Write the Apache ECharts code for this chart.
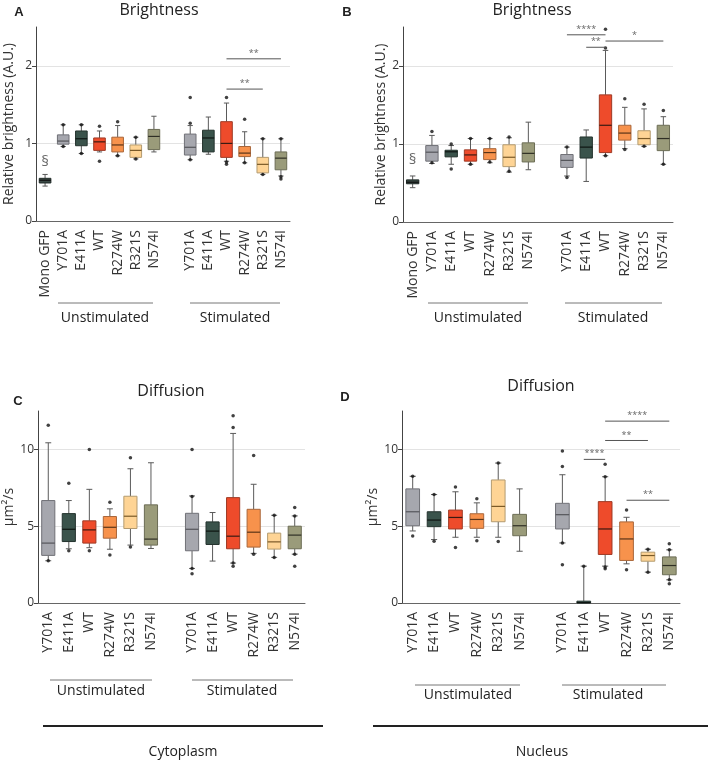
<!DOCTYPE html>
<html>
<head>
<meta charset="utf-8">
<script src="https://cdn.jsdelivr.net/npm/echarts@6/dist/echarts.min.js"></script>
<style>
  html, body { margin: 0; padding: 0; background: #fff; }
  #chart { width: 710px; height: 761px; }
</style>
</head>
<body>
<div id="chart"></div>
<script>
// categories (empty string = gap between groups)
var brightCats = ['Mono GFP', 'Y701A', 'E411A', 'WT', 'R274W', 'R321S', 'N574I', '', 'Y701A', 'E411A', 'WT', 'R274W', 'R321S', 'N574I'];
var diffCats = ['Y701A', 'E411A', 'WT', 'R274W', 'R321S', 'N574I', '', 'Y701A', 'E411A', 'WT', 'R274W', 'R321S', 'N574I'];
var brightTicks = [0, 1, 2];
var diffTicks = [0, 5, 10];

// boxes: [min, Q1, median, Q3, max], null for the gap
var aBox = [
	[0.45, 0.49, 0.525, 0.55, 0.60],
	[0.96, 0.99, 1.03, 1.11, 1.24],
	[0.87, 0.97, 1.06, 1.16, 1.24],
	[0.89, 0.91, 1.02, 1.07, 1.16],
	[0.84, 0.89, 0.98, 1.08, 1.23],
	[0.80, 0.82, 0.91, 0.98, 1.08],
	[0.89, 0.92, 1.09, 1.18, 1.35],
	null,
	[0.79, 0.85, 0.95, 1.12, 1.23],
	[0.86, 0.89, 1.07, 1.17, 1.34],
	[0.77, 0.82, 1.00, 1.28, 1.52],
	[0.75, 0.83, 0.875, 0.96, 1.15],
	[0.60, 0.62, 0.73, 0.82, 1.06],
	[0.58, 0.66, 0.81, 0.89, 1.06]
];
var bBox = [
	[0.44, 0.49, 0.51, 0.54, 0.59],
	[0.75, 0.78, 0.895, 0.98, 1.11],
	[0.74, 0.835, 0.90, 0.92, 0.98],
	[0.74, 0.78, 0.86, 0.925, 1.07],
	[0.76, 0.80, 0.89, 0.94, 1.07],
	[0.64, 0.71, 0.83, 0.99, 1.08],
	[0.67, 0.77, 0.88, 1.015, 1.28],
	null,
	[0.59, 0.70, 0.79, 0.865, 0.96],
	[0.52, 0.82, 0.96, 1.09, 1.18],
	[0.85, 0.89, 1.24, 1.63, 2.20],
	[0.94, 1.05, 1.14, 1.24, 1.47],
	[0.97, 0.99, 1.07, 1.17, 1.45],
	[0.74, 0.915, 1.07, 1.24, 1.35]
];
var cBox = [
	[2.75, 3.10, 3.90, 6.67, 10.43],
	[3.53, 4.00, 4.80, 5.82, 6.67],
	[3.60, 3.90, 4.76, 5.35, 7.40],
	[3.50, 4.22, 4.93, 5.63, 6.13],
	[3.77, 4.85, 5.65, 6.95, 8.74],
	[3.55, 3.77, 4.16, 6.39, 9.13],
	null,
	[2.25, 3.40, 4.80, 5.84, 6.97],
	[2.73, 3.81, 4.68, 5.28, 5.89],
	[2.60, 3.53, 4.35, 6.86, 11.04],
	[3.23, 3.64, 4.61, 6.10, 7.73],
	[2.97, 3.51, 3.98, 4.55, 5.71],
	[3.18, 3.53, 4.42, 5.00, 5.67]
];
var dBox = [
	[4.69, 5.03, 5.94, 7.43, 8.25],
	[4.13, 4.97, 5.40, 5.94, 7.06],
	[4.28, 4.82, 5.57, 6.05, 7.24],
	[4.28, 4.86, 5.44, 5.81, 6.52],
	[4.28, 5.29, 6.29, 8.01, 9.11],
	[3.37, 4.38, 5.03, 5.77, 7.43],
	null,
	[3.91, 4.82, 5.75, 6.49, 8.35],
	[0.00, 0.00, 0.03, 0.12, 2.40],
	[2.40, 3.16, 4.82, 6.60, 8.22],
	[2.55, 2.77, 4.17, 5.28, 5.58],
	[2.01, 2.72, 3.09, 3.31, 3.50],
	[1.51, 1.84, 2.44, 3.00, 3.46]
];

// outliers: [category index, value]
var aOut = [[1, 1.24], [1, 0.96], [2, 1.24], [2, 0.87], [3, 1.22], [3, 0.77], [4, 1.28], [4, 0.84], [5, 1.08], [5, 0.80],
	[8, 1.59], [8, 1.26], [8, 0.79], [10, 1.59], [10, 0.76], [10, 0.73], [11, 1.31], [11, 0.75], [12, 1.06], [12, 0.60],
	[13, 1.06], [13, 0.57], [13, 0.54]];
var bOut = [[1, 1.16], [1, 0.76], [2, 1.00], [2, 0.68], [3, 1.07], [3, 0.74], [4, 1.07], [4, 0.77], [5, 1.09], [5, 0.65],
	[8, 0.96], [8, 0.57], [10, 2.47], [10, 2.23], [10, 0.85], [11, 1.58], [11, 0.93], [12, 1.51], [12, 0.97], [13, 1.43], [13, 0.74]];
var cOut = [[0, 11.58], [0, 2.75], [1, 7.79], [1, 3.40], [2, 10.0], [2, 3.40], [3, 6.56], [3, 3.12], [4, 9.46], [4, 3.64],
	[7, 10.0], [7, 6.93], [7, 2.25], [7, 1.90], [9, 12.19], [9, 11.43], [9, 2.60], [9, 2.40], [10, 9.61], [10, 3.18],
	[11, 5.71], [11, 2.97], [12, 6.21], [12, 5.67], [12, 3.18], [12, 2.40]];
var dOut = [[0, 8.25], [0, 4.36], [1, 7.06], [1, 4.02], [2, 7.56], [2, 3.61], [3, 6.78], [3, 4.06], [4, 9.11], [4, 4.00],
	[7, 9.90], [7, 8.89], [7, 3.91], [7, 2.49], [8, 2.40], [9, 9.04], [9, 8.22], [9, 2.34], [9, 2.23], [10, 6.06], [10, 2.16],
	[11, 3.50], [11, 2.01], [12, 3.85], [12, 3.46], [12, 1.51], [12, 1.25]];

// significance: [from index, to index, value, stars]
var aSig = [[10, 13, 2.09, '**'], [10, 12, 1.70, '**']];
var bSig = [[8, 10, 2.40, '****'], [9, 10, 2.24, '**'], [10, 13, 2.32, '*']];
var cSig = [];
var dSig = [[9, 12, 11.84, '****'], [9, 11, 10.58, '**'], [8, 9, 9.35, '****'], [10, 12, 6.69, '**']];

// section marks
var aNote = [[0, 0.77, '§']];
var bNote = [[0, 0.80, '§']];

var colorOf = {
	'Mono GFP': ['#3b4a46', '#1f2a27', '#111111'],
	'Y701A': ['#a6a7ae', '#707177', '#55565b'],
	'E411A': ['#3a534b', '#24332e', '#0e1512'],
	'WT': ['#ee4b2b', '#9e3a25', '#3a1a12'],
	'R274W': ['#f7924c', '#a9663a', '#5a3418'],
	'R321S': ['#fed495', '#b39b70', '#7a5a28'],
	'N574I': ['#9a9b7a', '#6c6d55', '#2f2f25']
};
var FONT = 'Open Sans';

var chart = echarts.init(document.getElementById('chart'));

function boxRender(cats) {
	return function(params, api) {
		var x = api.value(0);
		var lo = api.coord([x, api.value(1)]);
		var q1 = api.coord([x, api.value(2)]);
		var md = api.coord([x, api.value(3)]);
		var q3 = api.coord([x, api.value(4)]);
		var hi = api.coord([x, api.value(5)]);
		var band = api.size([1, 0])[0];
		var bw = band * 0.64, cw = bw * 0.45, cx = md[0];
		var c = colorOf[cats[x]];
		var wl = { stroke: '#5a5a5a', lineWidth: 1 };
		return {
			type: 'group',
			children: [
				{ type: 'line', shape: { x1: cx, y1: hi[1], x2: cx, y2: q3[1] }, style: wl },
				{ type: 'line', shape: { x1: cx, y1: q1[1], x2: cx, y2: lo[1] }, style: wl },
				{ type: 'line', shape: { x1: cx - cw / 2, y1: hi[1], x2: cx + cw / 2, y2: hi[1] }, style: wl },
				{ type: 'line', shape: { x1: cx - cw / 2, y1: lo[1], x2: cx + cw / 2, y2: lo[1] }, style: wl },
				{ type: 'rect', shape: { x: cx - bw / 2, y: q3[1], width: bw, height: Math.max(q1[1] - q3[1], 1.5) },
					style: { fill: c[0], stroke: c[1], lineWidth: 1 } },
				{ type: 'line', shape: { x1: cx - bw / 2, y1: md[1], x2: cx + bw / 2, y2: md[1] },
					style: { stroke: c[2], lineWidth: 1.2 } }
			]
		};
	};
}

function sigRender(sig) {
	return function(params, api) {
		var s = sig[params.dataIndex];
		var p1 = api.coord([s[0], s[2]]);
		var p2 = api.coord([s[1], s[2]]);
		return {
			type: 'group',
			children: [
				{ type: 'line', shape: { x1: p1[0], y1: p1[1], x2: p2[0], y2: p2[1] }, style: { stroke: '#555', lineWidth: 1 } },
				{ type: 'text', style: { text: s[3], x: (p1[0] + p2[0]) / 2, y: p1[1] - 1, align: 'center', verticalAlign: 'bottom',
					fill: '#666', font: '9px ' + FONT } }
			]
		};
	};
}

function boxData(box) {
	var out = [];
	for (var i = 0; i < box.length; i++) {
		if (box[i]) out.push([i].concat(box[i]));
	}
	return out;
}

// panel layout in px
var panels = [
	{ cats: brightCats, box: aBox, out: aOut, sig: aSig, note: aNote, left: 36, top: 27, width: 254, height: 194,
		max: 2.5, step: 0.5, ticks: brightTicks, name: 'Relative brightness (A.U.)', gap: 20 },
	{ cats: brightCats, box: bBox, out: bOut, sig: bSig, note: bNote, left: 403, top: 27, width: 270, height: 195,
		max: 2.5, step: 0.5, ticks: brightTicks, name: 'Relative brightness (A.U.)', gap: 15 },
	{ cats: diffCats, box: cBox, out: cOut, sig: cSig, note: [], left: 38, top: 411, width: 267, height: 192,
		max: 12.5, step: 2.5, ticks: diffTicks, name: 'µm²/s', gap: 21 },
	{ cats: diffCats, box: dBox, out: dOut, sig: dSig, note: [], left: 402, top: 411, width: 278, height: 192,
		max: 12.5, step: 2.5, ticks: diffTicks, name: 'µm²/s', gap: 17 }
];

var grids = [], xAxes = [], yAxes = [], series = [];
panels.forEach(function(p, i) {
	grids.push({ left: p.left, top: p.top, width: p.width, height: p.height });
	xAxes.push({
		type: 'category', gridIndex: i, data: p.cats,
		axisLine: { lineStyle: { color: '#666', width: 1 } },
		axisTick: { alignWithLabel: true, length: 4, lineStyle: { color: '#666' } },
		axisLabel: { rotate: 90, interval: 0, fontSize: 14, color: '#333', margin: 9, fontFamily: FONT },
		splitLine: { show: false }
	});
	yAxes.push({
		type: 'value', gridIndex: i, min: 0, max: p.max, interval: p.step,
		name: p.name, nameLocation: 'middle', nameGap: p.gap,
		nameTextStyle: { fontSize: 14, color: '#333', fontFamily: FONT },
		axisLine: { show: true, lineStyle: { color: '#444' } },
		axisTick: { show: true, length: 4, customValues: p.ticks, lineStyle: { color: '#444' } },
		axisLabel: { customValues: p.ticks, fontSize: 12, color: '#333', margin: 4, fontFamily: FONT },
		splitLine: { lineStyle: { color: '#e3e3e3' } }
	});
	series.push({
		type: 'custom', xAxisIndex: i, yAxisIndex: i,
		renderItem: boxRender(p.cats),
		encode: { x: 0, y: [1, 2, 3, 4, 5] },
		data: boxData(p.box), z: 2
	});
	series.push({
		type: 'scatter', xAxisIndex: i, yAxisIndex: i,
		symbolSize: 3.5, itemStyle: { color: '#111' },
		data: p.out, z: 3
	});
	if (p.sig.length) {
		series.push({
			type: 'custom', xAxisIndex: i, yAxisIndex: i,
			renderItem: sigRender(p.sig),
			encode: { x: [0, 1], y: 2 },
			data: p.sig.map(function(s) { return [s[0], s[1], s[2]]; }), z: 4
		});
	}
	if (p.note.length) {
		series.push({
			type: 'scatter', xAxisIndex: i, yAxisIndex: i, symbolSize: 0,
			label: { show: true, position: 'inside', formatter: function(d) { return p.note[d.dataIndex][2]; },
				fontSize: 15, color: '#444', fontFamily: FONT },
			data: p.note.map(function(n) { return [n[0], n[1]]; }), z: 4
		});
	}
});

function txt(x, y, s, size, weight, fam) {
	return { type: 'text', x: x, y: y, style: { text: s, align: 'center', verticalAlign: 'middle',
		font: (weight || 'normal') + ' ' + size + 'px ' + (fam || FONT), fill: '#222' } };
}
function hline(x1, x2, y, w, col) {
	return { type: 'line', shape: { x1: x1, y1: y, x2: x2, y2: y }, style: { stroke: col || '#777', lineWidth: w || 1 } };
}

var graphics = [
	txt(19, 12, 'A', 13, 'bold', 'Liberation Sans'),
	txt(347, 12, 'B', 13, 'bold', 'Liberation Sans'),
	txt(18, 401, 'C', 13, 'bold', 'Liberation Sans'),
	txt(345, 397, 'D', 13, 'bold', 'Liberation Sans'),
	txt(159, 10, 'Brightness', 16),
	txt(532, 10, 'Brightness', 16),
	txt(171, 391, 'Diffusion', 16),
	txt(541, 386, 'Diffusion', 16),
	hline(58, 153, 303), txt(105, 318, 'Unstimulated', 14),
	hline(190, 280, 303), txt(235, 318, 'Stimulated', 14),
	hline(428, 528, 303), txt(478, 318, 'Unstimulated', 14),
	hline(565, 662, 303), txt(613, 318, 'Stimulated', 14),
	hline(50, 152, 680), txt(101, 691, 'Unstimulated', 14),
	hline(192, 293, 680), txt(242, 691, 'Stimulated', 14),
	hline(415, 520, 685), txt(468, 695, 'Unstimulated', 14),
	hline(562, 666, 685), txt(608, 695, 'Stimulated', 14),
	hline(43, 323, 726, 2, '#222'), txt(183, 752, 'Cytoplasm', 14),
	hline(373, 708, 726, 2, '#222'), txt(542, 752, 'Nucleus', 14)
];

chart.setOption({
	animation: false,
	grid: grids,
	xAxis: xAxes,
	yAxis: yAxes,
	series: series,
	graphic: graphics
});
</script>
</body>
</html>
